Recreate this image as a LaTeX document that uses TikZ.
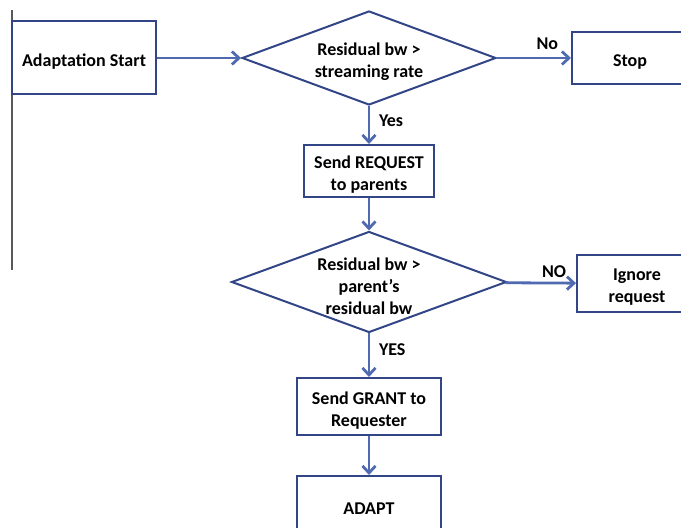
\documentclass[tikz,border=0pt]{standalone}
\usepackage{fontspec}
\setmainfont{Carlito}
\usepackage{xcolor}
\usetikzlibrary{shapes.geometric, arrows.meta, positioning}
\definecolor{boxline}{RGB}{50,70,135}
\definecolor{flowline}{RGB}{80,106,178}
\newsavebox{\flowtext}

\begin{document}
\begin{tikzpicture}[
    x=0.5pt, y=-0.5pt,
    font=\bfseries\fontsize{9}{11}\selectfont,
    lowtext/.style={execute at begin node={\setbox\flowtext=\hbox\bgroup}, execute at end node={\egroup\ht\flowtext=\dimexpr\ht\flowtext+3.8pt\relax\box\flowtext}},
    box/.style={rectangle, minimum width=65pt, minimum height=26pt, text centered, align=center, draw=boxline, line width=1pt, fill=white, inner sep=0pt, lowtext},
    decision/.style={diamond, aspect=2.72, text centered, align=center, draw=boxline, line width=1pt, fill=white, inner ysep=0pt, inner xsep=-5pt, lowtext},
    arrow/.style={line width=1.4pt, draw=flowline, -{Straight Barb[length=3.5pt,width=6.5pt]}},
    answer/.style={text=black, inner sep=3.3pt}
]
\useasboundingbox (0,0) rectangle (681,528);
\clip (0,0) rectangle (681,528);

\draw [gray!70!black, line width=0.8pt] (12,10) -- (12,270);

\node (start) [box, minimum width=72pt, minimum height=36.5pt] at (84,58) {Adaptation Start};
\node (resbw) [decision, minimum width=127pt, minimum height=47pt] at (369,58) {Residual bw >\\streaming rate};
\node (stop) [box, minimum width=58pt] at (630,58) {Stop};
\node (request) [box] at (369,171) {Send REQUEST\\to parents};
\node (parbw) [decision, minimum width=137.5pt, minimum height=50.5pt] at (369,282) {Residual bw >\\parent’s\\residual bw};
\node (ignore) [box, minimum width=60pt, minimum height=28.5pt] at (637,283.5) {Ignore\\request};
\node (grant) [box, minimum width=72pt, minimum height=28.5pt] at (369,406.5) {Send GRANT to\\Requester};
\node (adapt) [box, minimum width=72pt, minimum height=28.5pt] at (369,504.5) {ADAPT};

\draw [arrow] (start) -- (resbw);
\draw [arrow] (resbw) -- node[answer, above, pos=0.68] {No} (stop);
\draw [arrow] (resbw) -- node[answer, right=1pt, pos=0.4] {Yes} (request);
\draw [arrow] (request) -- (parbw);
\draw [arrow] (parbw) -- node[answer, above=-1.3pt, pos=0.69] {NO} (ignore);
\draw [arrow] (parbw) -- node[answer, right=1pt, pos=0.38] {YES} (grant);
\draw [arrow] (grant) -- (adapt);

\end{tikzpicture}
\end{document}
